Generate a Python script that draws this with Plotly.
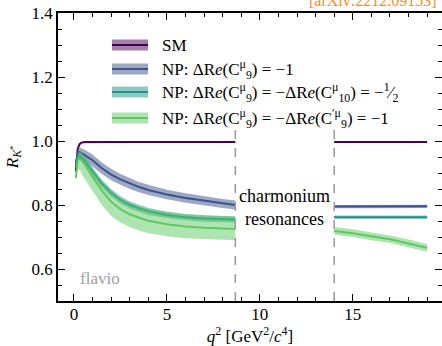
import plotly.graph_objects as go

# ---------------- data ----------------
q2_low = [0.1, 0.15, 0.2, 0.3, 0.4, 0.6, 0.8, 1.0, 1.5, 2.0, 2.5, 3.0, 3.5, 4.0, 5.0, 6.0, 7.0, 8.0, 8.68]
q2_high = [14.0, 15.0, 16.0, 17.0, 18.0, 19.0]

sm_low = [0.905, 0.955, 0.975, 0.99, 0.995, 0.997, 0.997, 0.997, 0.997, 0.997, 0.997, 0.997, 0.997, 0.997, 0.997, 0.997, 0.997, 0.997, 0.997]
sm_high = [0.997, 0.997, 0.997, 0.997, 0.997, 0.997]
sm_err_low = [0.002] * 19
sm_err_high = [0.001] * 6

c9_low = [0.93, 0.955, 0.962, 0.965, 0.962, 0.955, 0.947, 0.94, 0.915, 0.895, 0.88, 0.867, 0.856, 0.847, 0.833, 0.822, 0.813, 0.805, 0.80]
c9_high = [0.795, 0.795, 0.795, 0.795, 0.795, 0.796]
c9_err_low = [0.01, 0.012, 0.014, 0.015, 0.016, 0.017, 0.018, 0.018, 0.018, 0.018, 0.017, 0.017, 0.016, 0.016, 0.015, 0.015, 0.014, 0.014, 0.014]
c9_err_high = [0.005, 0.005, 0.005, 0.005, 0.005, 0.005]

c910_low = [0.92, 0.945, 0.952, 0.953, 0.948, 0.935, 0.92, 0.905, 0.867, 0.838, 0.816, 0.800, 0.789, 0.780, 0.769, 0.762, 0.758, 0.756, 0.755]
c910_high = [0.762, 0.762, 0.762, 0.762, 0.762, 0.762]
c910_err_low = [0.008, 0.01, 0.011, 0.012, 0.012, 0.012, 0.012, 0.012, 0.012, 0.012, 0.011, 0.011, 0.011, 0.011, 0.010, 0.010, 0.010, 0.010, 0.010]
c910_err_high = [0.005, 0.005, 0.005, 0.005, 0.005, 0.005]

c99p_low = [0.885, 0.925, 0.94, 0.945, 0.94, 0.925, 0.905, 0.888, 0.845, 0.81, 0.787, 0.771, 0.760, 0.751, 0.740, 0.733, 0.729, 0.726, 0.725]
c99p_high = [0.719, 0.712, 0.702, 0.693, 0.680, 0.666]
c99p_lo_low = [0.015, 0.025, 0.03, 0.035, 0.04, 0.045, 0.045, 0.045, 0.045, 0.044, 0.042, 0.04, 0.04, 0.039, 0.038, 0.037, 0.036, 0.035, 0.035]
c99p_hi_low = [0.01, 0.015, 0.02, 0.022, 0.025, 0.025, 0.027, 0.028, 0.03, 0.032, 0.034, 0.035, 0.036, 0.037, 0.038, 0.038, 0.038, 0.038, 0.038]
c99p_err_high = [0.012, 0.012, 0.012, 0.012, 0.012, 0.012]

resonance_edges = [8.68, 14.0]

legend_labels = [
    "SM",
    "NP: ΔR<i>e</i>(C<sup>μ</sup><sub>9</sub>) = −1",
    "NP: ΔR<i>e</i>(C<sup>μ</sup><sub>9</sub>) = −ΔR<i>e</i>(C<sup>μ</sup><sub>10</sub>) = −<sup>1</sup>⁄<sub>2</sub>",
    "NP: ΔR<i>e</i>(C<sup>μ</sup><sub>9</sub>) = −ΔR<i>e</i>(C<sup>′μ</sup><sub>9</sub>) = −1",
]
line_colors = ["#440154", "#3b528b", "#21918c", "#5ec962"]
band_colors = ["rgba(68,1,84,0.5)", "rgba(59,82,139,0.5)", "rgba(33,145,140,0.5)", "rgba(94,201,98,0.5)"]

# ---------------- geometry (pixels) ----------------
W, H = 442, 346
L, R, T, B = 58, 442, 13, 301
FONT = "Liberation Serif"


def px(x):
    return (x - L) / (R - L)


def py(y):
    return (B - y) / (B - T)


fig = go.Figure()

series = [
    (sm_low, sm_high, [-e for e in sm_err_low], sm_err_low, [-e for e in sm_err_high], sm_err_high),
    (c9_low, c9_high, [-e for e in c9_err_low], c9_err_low, [-e for e in c9_err_high], c9_err_high),
    (c910_low, c910_high, [-e for e in c910_err_low], c910_err_low, [-e for e in c910_err_high], c910_err_high),
    (c99p_low, c99p_high, [-e for e in c99p_lo_low], c99p_hi_low, [-e for e in c99p_err_high], c99p_err_high),
]

for i, (ylo, yhi, dlo_l, dhi_l, dlo_h, dhi_h) in enumerate(series):
    for xs, ys, dlo, dhi in [(q2_low, ylo, dlo_l, dhi_l), (q2_high, yhi, dlo_h, dhi_h)]:
        upper = [y + d for y, d in zip(ys, dhi)]
        lower = [y + d for y, d in zip(ys, dlo)]
        fig.add_trace(go.Scatter(x=xs + xs[::-1], y=upper + lower[::-1], fill="toself",
                                 fillcolor=band_colors[i], line=dict(width=0),
                                 mode="lines", hoverinfo="skip", showlegend=False))
        fig.add_trace(go.Scatter(x=xs, y=ys, mode="lines",
                                 line=dict(color=line_colors[i], width=2),
                                 showlegend=False))

shapes = []
for xe in resonance_edges:
    shapes.append(dict(type="line", xref="x", yref="paper", x0=xe, x1=xe, y0=0, y1=0.6,
                       line=dict(color="#999999", width=1.5, dash="dash"), layer="above"))

annotations = []
# legend (manual)
leg_y = [45, 69, 92, 118]
for i, lab in enumerate(legend_labels):
    shapes.append(dict(type="rect", xref="paper", yref="paper",
                       x0=px(112), x1=px(148), y0=py(leg_y[i] + 5.5), y1=py(leg_y[i] - 5.5),
                       fillcolor=band_colors[i], line=dict(width=0)))
    shapes.append(dict(type="line", xref="paper", yref="paper",
                       x0=px(112), x1=px(148), y0=py(leg_y[i]), y1=py(leg_y[i]),
                       line=dict(color=line_colors[i], width=2)))
    annotations.append(dict(text=lab, xref="paper", yref="paper", x=px(160), y=py(leg_y[i]),
                            xanchor="left", yanchor="middle", showarrow=False,
                            font=dict(family=FONT, size=17, color="black")))

annotations.append(dict(text="charmonium<br>resonances", xref="x", yref="y",
                        x=(resonance_edges[0] + resonance_edges[1]) / 2, y=0.792,
                        xanchor="center", yanchor="middle", showarrow=False,
                        font=dict(family=FONT, size=18, color="black")))
annotations.append(dict(text="flavio", xref="paper", yref="paper", x=px(78), y=py(278),
                        xanchor="left", yanchor="middle", showarrow=False,
                        font=dict(family=FONT, size=17, color="#a0a0a0")))
annotations.append(dict(text="[arXiv:2212.09153]", xref="paper", yref="paper", x=px(439), y=py(1),
                        xanchor="right", yanchor="middle", showarrow=False,
                        font=dict(family=FONT, size=16, color="#ff8c1a")))

axis_common = dict(showgrid=False, zeroline=False, showline=True, linecolor="black", linewidth=1.5,
                   mirror="ticks", ticks="inside", ticklen=7, tickwidth=1, tickcolor="black",
                   automargin=False,
                   tickfont=dict(family=FONT, size=17, color="black"))

fig.update_layout(
    width=W, height=H,
    margin=dict(l=L, r=W - R, t=T, b=H - B),
    plot_bgcolor="white", paper_bgcolor="white",
    showlegend=False,
    xaxis=dict(range=[-0.86, 19.8], tick0=0, dtick=5,
               minor=dict(ticks="inside", dtick=1, ticklen=4, tickcolor="black", tickwidth=1),
               ticklabelstandoff=-3,
               title=dict(text="<i>q</i><sup>2</sup> [GeV<sup>2</sup>/<i>c</i><sup>4</sup>]",
                          font=dict(family=FONT, size=17, color="black"), standoff=8),
               **axis_common),
    yaxis=dict(range=[0.5, 1.4], tick0=0.6, dtick=0.2, tickformat=".1f",
               minor=dict(ticks="inside", dtick=0.05, ticklen=4, tickcolor="black", tickwidth=1),
               title=dict(text="<i>R</i><sub><i>K</i><sup>*</sup></sub>",
                          font=dict(family=FONT, size=17, color="black"), standoff=9),
               **axis_common),
    shapes=shapes,
    annotations=annotations,
)

fig.write_html(
    "out.html",
    config={"displayModeBar": False},
    post_script="document.body.style.margin='0';document.body.style.overflow='hidden';",
)
